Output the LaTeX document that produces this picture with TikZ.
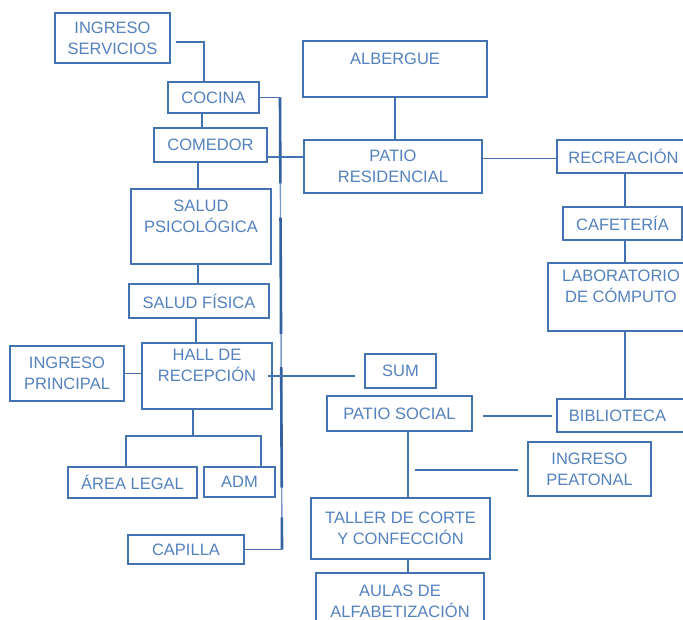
\documentclass[tikz,border=0pt]{standalone}
\usepackage{fontspec}
\setmainfont{Liberation Sans}
\usetikzlibrary{calc}
\definecolor{azul}{RGB}{68,114,176}
\definecolor{azultexto}{RGB}{84,130,190}
\definecolor{azulbarra}{RGB}{50,98,160}
\tikzset{
	ambiente/.style={draw=azul, line width=1.5pt, text=azultexto, inner sep=0pt, align=center, font=\fontsize{16.5}{21}\selectfont},
	enlace/.style={draw=azul, line width=1.4pt},
	barra/.style={draw=azulbarra, line width=2.6pt}
}

\begin{document}
\begin{tikzpicture}[x=1pt,y=-1pt]
			%%%%% START %%%%%
			
			\path[use as bounding box] (0,0) rectangle (683,620);
			\clip (0,0) rectangle (683,620);
			\fill[white] (0,0) rectangle (683,620);
			
			% columna izquierda
			\node[ambiente, minimum width=115pt, minimum height=50pt] (servicios) at (112.5,38) {INGRESO\\SERVICIOS};
			\node[ambiente, minimum width=91pt, minimum height=31pt] (cocina) at (213.5,97.5) {COCINA};
			\node[ambiente, minimum width=113pt, minimum height=34pt] (comedor) at (210.5,145) {COMEDOR};
			\node[ambiente, minimum width=140pt, minimum height=75pt] (psic) at (201,226.5) {SALUD\\PSICOLÓGICA\\ \mbox{}};
			\node[ambiente, minimum width=140pt, minimum height=34pt] (fisica) at (199,301) {SALUD FÍSICA};
			\node[ambiente, minimum width=130pt, minimum height=66pt] (hall) at (207,376) {HALL DE\\RECEPCIÓN\\ \mbox{}};
			\node[ambiente, minimum width=114pt, minimum height=55pt] (principal) at (67,373.5) {INGRESO\\PRINCIPAL};
			\node[ambiente, minimum width=129pt, minimum height=31pt] (legal) at (132.5,482.5) {ÁREA LEGAL};
			\node[ambiente, minimum width=71pt, minimum height=30pt] (adm) at (239.5,482) {ADM};
			\node[ambiente, minimum width=116pt, minimum height=29pt] (capilla) at (186,549.5) {CAPILLA};
			
			% centro
			\node[ambiente, minimum width=184pt, minimum height=56pt] (albergue) at (395,69) {ALBERGUE\\ \mbox{}};
			\node[ambiente, minimum width=178pt, minimum height=53pt] (patio) at (393,166.5) {PATIO\\RESIDENCIAL};
			\node[ambiente, minimum width=71pt, minimum height=34pt] (sum) at (400.5,371) {SUM};
			\node[ambiente, minimum width=145pt, minimum height=35pt] (social) at (399.5,413.5) {PATIO SOCIAL};
			\node[ambiente, minimum width=179pt, minimum height=61pt] (taller) at (400.5,528.5) {TALLER DE CORTE\\Y CONFECCIÓN};
			\node[ambiente, minimum width=168pt, minimum height=57pt] (aulas) at (400,601.5) {AULAS DE\\ALFABETIZACIÓN};
			
			% columna derecha
			\node[ambiente, minimum width=133pt, minimum height=33pt] (recreacion) at (623.5,156.5) {RECREACIÓN};
			\node[ambiente, minimum width=119pt, minimum height=33pt] (cafe) at (622.5,223.5) {CAFETERÍA};
			\node[ambiente, minimum width=146pt, minimum height=68pt] (lab) at (621,297) {LABORATORIO\\DE CÓMPUTO\\ \mbox{}};
			\node[ambiente, minimum width=133pt, minimum height=33pt] (biblio) at (623.5,415.5) {BIBLIOTECA\hspace{12pt}};
			\node[ambiente, minimum width=123pt, minimum height=54pt] (peatonal) at (589.5,469) {INGRESO\\PEATONAL};
			
			% barra vertical
			\coordinate (barra arriba) at (280,97.5);
			\coordinate (barra abajo) at (282,549.5);
			\draw[enlace, draw=azul!70] (barra arriba) -- (barra abajo);
			\foreach \a/\b in {0/0.19,0.266/0.523,0.596/0.863,0.929/1}
				\draw[barra] ($(barra arriba)!\a!(barra abajo)$) -- ($(barra arriba)!\b!(barra abajo)$);
			\draw[enlace] (cocina.east) -- (cocina.east -| barra arriba);
			\draw[enlace] (capilla.east) -- (capilla.east -| barra abajo);
			
			\draw[enlace] ([xshift=5pt,yshift=-4pt]servicios.east) -| ([xshift=-9.5pt]cocina.north);
			\draw[enlace] ([xshift=-11.5pt]cocina.south) -- ([xshift=-11.5pt]cocina.south |- comedor.north);
			\draw[enlace] ([xshift=-3pt]psic.north) -- ([xshift=-3pt]psic.north |- comedor.south);
			\draw[enlace] ([xshift=-3pt]psic.south) -- ([xshift=-3pt]psic.south |- fisica.north);
			\draw[enlace] ([xshift=-3pt]fisica.south) -- ([xshift=-3pt]fisica.south |- hall.north);
			\draw[enlace] (principal.east) -- (principal.east -| hall.west);
			\draw[enlace] ([xshift=-5pt]hall.east) -- ([xshift=-9pt]hall.east -| sum.west);
			
			\coordinate (rama) at (193,436);
			\draw[enlace] ([xshift=-14pt]hall.south) -- (rama);
			\draw[enlace] ([xshift=-6.5pt]legal.north) |- (rama) -| ([xshift=21.5pt]adm.north);
			
			\draw[enlace] ([yshift=-12pt]comedor.east) -- ([yshift=-12pt]comedor.east -| patio.west);
			\draw[enlace] (albergue.south) -- (albergue.south |- patio.north);
			\draw[enlace] ([yshift=8pt]patio.east) -- ([yshift=8pt]patio.east -| recreacion.west);
			
			\draw[enlace] ([xshift=2.5pt]cafe.north) -- ([xshift=2.5pt]cafe.north |- recreacion.south);
			\draw[enlace] ([xshift=2.5pt]cafe.south) -- ([xshift=2.5pt]cafe.south |- lab.north);
			\draw[enlace] ([xshift=2.5pt]cafe.south |- lab.south) -- ([xshift=2.5pt]cafe.south |- biblio.north);
			
			\draw[enlace] ([xshift=10pt,yshift=-2.5pt]social.east) -- ([xshift=-4pt,yshift=-2.5pt]social.east -| biblio.west);
			\draw[enlace] ([xshift=8.5pt]social.south) -- ([xshift=8.5pt]social.south |- taller.north);
			\coordinate (cruce) at (415,470);
			\draw[enlace] (cruce) -- ([xshift=-9pt]cruce -| peatonal.west);
			\draw[enlace] ([xshift=7.5pt]taller.south) -- ([xshift=7.5pt]taller.south |- aulas.north);
			
			%%%%% END %%%%%
\end{tikzpicture}
\end{document}
